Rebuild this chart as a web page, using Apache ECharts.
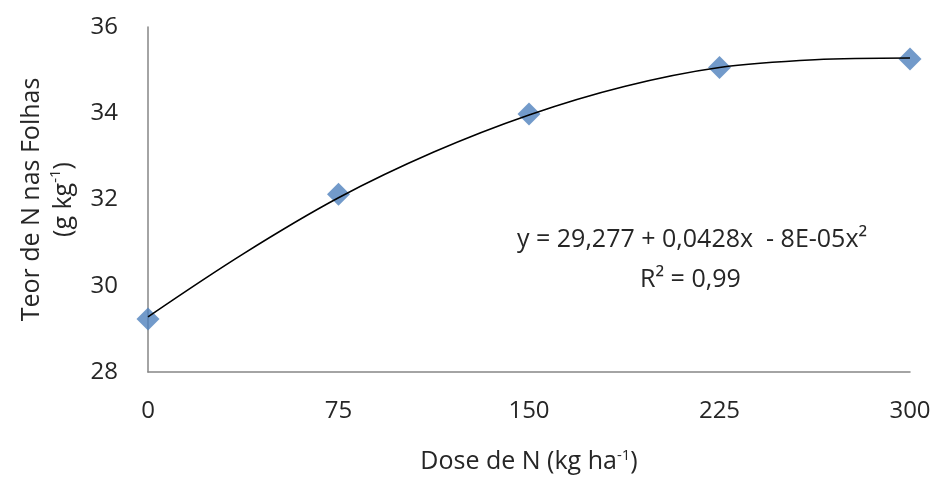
<!DOCTYPE html>
<html>
<head>
<meta charset="utf-8">
<script src="https://cdn.jsdelivr.net/npm/echarts@6/dist/echarts.min.js"></script>
<style>
html,body{margin:0;padding:0;background:#fff;}
#chart{width:950px;height:490px;}
</style>
</head>
<body>
<div id="chart"></div>
<script>
// Observed data
var doses = [0, 75, 150, 225, 300];
var teorN = [29.23, 32.12, 33.98, 35.06, 35.26];
// Trend line
var trendX = [0, 37.5, 75, 112.5, 150, 187.5, 225, 262.5, 300];
var trendY = [29.28, 30.74, 32.04, 33.10, 33.96, 34.62, 35.06, 35.24, 35.28];
var xTicks = [0, 75, 150, 225, 300];
var yTicks = [28, 30, 32, 34, 36];
var eqText = 'y = 29,277 + 0,0428x  - 8E-05x²';
var r2Text = 'R² = 0,99';

var FONT = '"Open Sans", "Noto Sans", sans-serif';
var chart = echarts.init(document.getElementById('chart'), null, {renderer: 'canvas'});

function pairs(xs, ys) { return xs.map(function (x, i) { return [x, ys[i]]; }); }

chart.setOption({
  animation: false,
  backgroundColor: '#ffffff',
  grid: {left: 148, right: 40, top: 27, bottom: 118, containLabel: false},
  xAxis: {
    type: 'value', min: xTicks[0], max: xTicks[xTicks.length - 1], interval: 75,
    axisLine: {show: true, lineStyle: {color: '#868686', width: 1.5}},
    axisTick: {show: false},
    splitLine: {show: false},
    axisLabel: {color: '#262626', fontFamily: FONT, fontSize: 24, margin: 27},
    name: '{a|Dose de N (kg ha}{s|-1}{a|)}',
    nameLocation: 'middle', nameGap: 76,
    nameTextStyle: {
      rich: {
        a: {fontFamily: FONT, fontSize: 25, color: '#262626'},
        s: {fontFamily: FONT, fontSize: 15, color: '#262626', verticalAlign: 'top', padding: [0, 0, 12, 0]}
      }
    }
  },
  yAxis: {
    type: 'value', min: yTicks[0], max: yTicks[yTicks.length - 1], interval: 2,
    axisLine: {show: true, lineStyle: {color: '#868686', width: 1.5}},
    axisTick: {show: false},
    splitLine: {show: false},
    axisLabel: {color: '#262626', fontFamily: FONT, fontSize: 24, margin: 30},
    name: '{a|Teor de N nas Folhas}\n{a|(g kg}{s|-1}{a|)}',
    nameLocation: 'middle', nameRotate: 90, nameGap: 68,
    nameTextStyle: {
      align: 'center',
      rich: {
        a: {fontFamily: FONT, fontSize: 25, color: '#262626', lineHeight: 32, align: 'center'},
        s: {fontFamily: FONT, fontSize: 15, color: '#262626', lineHeight: 32, verticalAlign: 'top'}
      }
    }
  },
  series: [
    {
      type: 'line', data: pairs(trendX, trendY), smooth: 0.35, showSymbol: false,
      lineStyle: {color: '#000000', width: 1.6}, z: 3
    },
    {
      type: 'scatter', data: pairs(doses, teorN), symbol: 'diamond', symbolSize: [23, 23],
      itemStyle: {color: '#4F81BD'}, z: 2
    }
  ],
  graphic: [
    {type: 'text', left: 517, top: 227, style: {text: eqText, font: '25px ' + FONT, fill: '#262626'}},
    {type: 'text', left: 640, top: 267, style: {text: r2Text, font: '25px ' + FONT, fill: '#262626'}}
  ]
});
</script>
</body>
</html>
